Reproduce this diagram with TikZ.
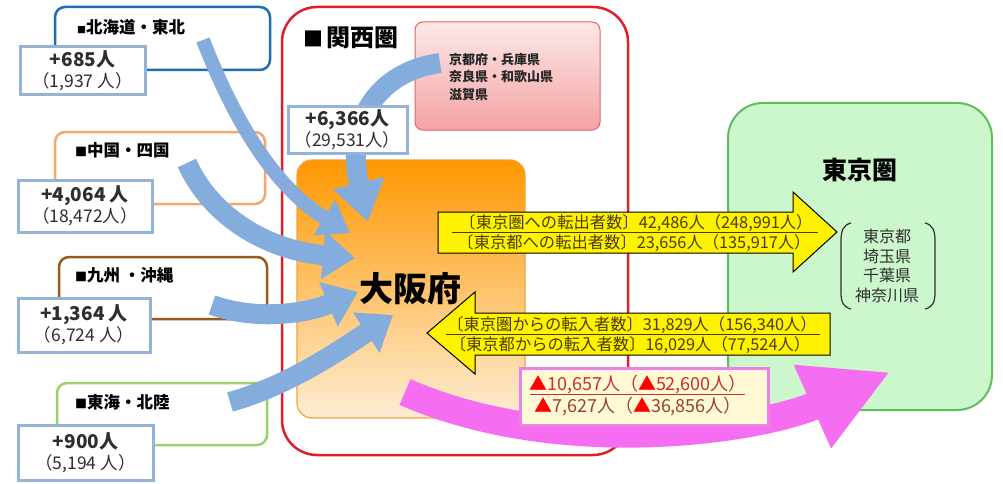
\documentclass[tikz,border=0pt]{standalone}
\usepackage{fontspec}
\setmainfont{Noto Sans CJK JP}
\usetikzlibrary{arrows.meta}
\definecolor{hkblue}{HTML}{1F6EB5}
\definecolor{cgorange}{HTML}{F3A86A}
\definecolor{kybrown}{HTML}{9A5A1E}
\definecolor{tkgreen}{HTML}{9BD16A}
\definecolor{ksred}{HTML}{E01E2A}
\definecolor{valblue}{HTML}{95B3D7}
\definecolor{arrblue}{HTML}{84ACDD}
\definecolor{ostop}{HTML}{FF9800}
\definecolor{osbot}{HTML}{FDEDD5}
\definecolor{osline}{HTML}{F2A33A}
\definecolor{pktop}{HTML}{FDE8E8}
\definecolor{pkbot}{HTML}{F4A3A3}
\definecolor{pkline}{HTML}{E06666}
\definecolor{tyfill}{HTML}{CCF7CC}
\definecolor{tyline}{HTML}{5CBF5C}
\definecolor{ytext}{HTML}{4A3C00}
\definecolor{magarrow}{HTML}{F56EF2}
\definecolor{lblfill}{HTML}{FFF9D6}
\definecolor{lblline}{HTML}{EC7FE8}
\definecolor{redtxt}{HTML}{C8302E}
\definecolor{browntxt}{HTML}{94452C}
\definecolor{graytxt}{HTML}{2E2E2E}
\tikzset{
  regbox/.style={draw, line width=2.5pt, rounded corners=10pt, fill=white, inner sep=0pt},
  regtitle/.style={anchor=west, inner sep=0pt, font=\fontsize{16.5}{18}\selectfont\bfseries},
  valbox/.style={draw=valblue, line width=3pt, fill=white, inner sep=0pt, align=center, text=graytxt, font=\fontsize{17.5}{21}\selectfont},
  blarrow/.style={draw=arrblue, line width=20pt, -{Triangle[length=32pt,width=46pt]}},
  yarrow/.style={draw=black, line width=1pt, fill=yellow, line join=miter},
  ytxt/.style={inner sep=0pt, text=ytext, font=\fontsize{16.3}{18}\selectfont},
  lbltxt/.style={inner sep=0pt, font=\fontsize{18}{20}\selectfont},
}
\newcommand{\vbtxt}[2]{{\fontsize{19}{21}\selectfont\bfseries #1}\\{\fontsize{17.5}{21}\selectfont #2}}
\newcommand{\rtri}{\textcolor{red}{▲}}
\begin{document}
\begin{tikzpicture}[x=1pt,y=-1pt]
\useasboundingbox (0,0) rectangle (1003,484);
\fill[white] (0,0) rectangle (1003,484);

% region boxes on the left
\node[regbox, draw=hkblue, minimum width=215pt, minimum height=63pt] (hk) at (162.5,38.5) {};
\node[regbox, draw=cgorange, minimum width=210pt, minimum height=72pt] (cg) at (160,168) {};
\node[regbox, draw=kybrown, minimum width=208pt, minimum height=62pt] (ky) at (163,288) {};
\node[regbox, draw=tkgreen, minimum width=210pt, minimum height=62pt] (tk) at (162,414) {};
\node[regtitle] (hkt) at (77,27) {{\fontsize{9}{9}\selectfont ■}北海道・東北};
\node[regtitle] (cgt) at (75,150) {{\fontsize{12}{12}\selectfont ■}中国・四国};
\node[regtitle] (kyt) at (75,275) {{\fontsize{12}{12}\selectfont ■}九州 ・沖縄};
\node[regtitle] (tkt) at (75,402) {{\fontsize{12}{12}\selectfont ■}東海・北陸};

% Kansai
\node[draw=ksred, line width=2.5pt, rounded corners=35pt, minimum width=346pt, minimum height=448pt, inner sep=0pt] (ks) at (455,231) {};
\node[anchor=west, inner sep=0pt, font=\fontsize{24}{26}\selectfont\bfseries] (kst) at (303,38) {{\fontsize{20}{20}\selectfont ■}\hspace{3pt}関西圏};
\node[draw=pkline, line width=1pt, rounded corners=8pt, top color=pktop, bottom color=pkbot, minimum width=185pt, minimum height=108pt, inner sep=0pt] (pk) at (507.5,76) {};
\node[anchor=north west, align=left, inner sep=0pt, font=\fontsize{13}{17.5}\selectfont\bfseries, text=black!85] (pkt) at (449,53) {京都府・兵庫県\\奈良県・和歌山県\\滋賀県};

% Osaka
\node[draw=osline, line width=1.2pt, rounded corners=15pt, top color=ostop, bottom color=osbot, minimum width=228pt, minimum height=258pt, inner sep=0pt] (os) at (411,289) {};
\node[inner sep=0pt, font=\fontsize{34}{36}\selectfont\bfseries] (ost) at (410,289) {大阪府};

% Tokyo
\node[draw=tyline, line width=2pt, rounded corners=35pt, fill=tyfill, minimum width=264pt, minimum height=307pt, inner sep=0pt] (ty) at (860,256.5) {};
\node[inner sep=0pt, font=\fontsize{25}{28}\selectfont\bfseries] (tyt) at (860,170) {東京圏};
\node[align=center, inner sep=0pt, font=\fontsize{16}{19.5}\selectfont, text=graytxt] (tyl) at (887,266) {東京都\\埼玉県\\千葉県\\神奈川県};
\draw[graytxt, line width=1.2pt] (851,223) .. controls (843,225) and (841,231) .. (841,241) -- (841,292) .. controls (841,302) and (843,307) .. (851,309);
\draw[graytxt, line width=1.2pt] (925,223) .. controls (933,225) and (935,231) .. (935,241) -- (935,292) .. controls (935,302) and (933,307) .. (925,309);

% blue arrows
\coordinate (hks) at (203,40);
\coordinate (cgs) at (187,163);
\coordinate (kys) at (212,305);
\coordinate (tks) at (230,402);
\coordinate (pks) at (440,63);
\coordinate (osa) at (350,233);
\coordinate (osb) at (355,258);
\coordinate (osc) at (358,292);
\coordinate (osd) at (393,315);
\coordinate (ose) at (368,222);
\draw[blarrow, line width=14pt, -{Triangle[length=30pt,width=40pt]}] (hks) .. controls (230,110) and (270,185) .. (osa);
\draw[blarrow] (cgs) .. controls (210,215) and (265,250) .. (osb);
\draw[blarrow] (kys) .. controls (260,322) and (310,312) .. (osc);
\draw[blarrow] (tks) .. controls (290,385) and (340,350) .. (osd);
\draw[blarrow, -{Triangle[length=40pt,width=50pt]}] (pks) .. controls (375,72) and (345,125) .. (ose);

% value boxes
\node[valbox, minimum width=125pt, minimum height=48pt] (hkv) at (82.5,71) {\vbtxt{+685人}{（1,937 人）}};
\node[valbox, minimum width=134pt, minimum height=52pt] (cgv) at (85,206) {\vbtxt{+4,064 人}{（18,472人）}};
\node[valbox, minimum width=132pt, minimum height=54pt] (kyv) at (84,325) {\vbtxt{+1,364 人}{（6,724 人）}};
\node[valbox, minimum width=135pt, minimum height=55pt] (tkv) at (85.5,452.5) {\vbtxt{+900人}{（5,194 人）}};
\node[valbox, minimum width=119pt, minimum height=46pt] (ksv) at (347.5,130) {\vbtxt{+6,366人}{（29,531人）}};

% yellow arrows
\draw[yarrow] (438,212) -- (793,212) -- (793,192) -- (837,232) -- (793,272) -- (793,253) -- (438,253) -- cycle;
\node[ytxt] (out1) at (636,223) {〔東京圏への転出者数〕42,486人（248,991人）};
\node[ytxt] (out2) at (634,243) {〔東京都への転出者数〕23,656人（135,917人）};
\draw[ytext, line width=0.8pt] (452,232.5) -- (818,232.5);
\draw[yarrow] (830,313) -- (475,313) -- (475,292) -- (427,333) -- (475,374) -- (475,355) -- (830,355) -- cycle;
\node[ytxt] (in1) at (632,325) {〔東京圏からの転入者数〕31,829人（156,340人）};
\node[ytxt] (in2) at (630,345) {〔東京都からの転入者数〕16,029人（77,524人）};
\draw[ytext, line width=0.8pt] (446,334) -- (820,334);

% magenta arrow
\coordinate (mgs) at (405,392);
\coordinate (mge) at (890,372);
\draw[draw=magarrow, line width=28pt, -{Triangle[length=85pt,width=85pt]}] (mgs) .. controls (560,460) and (760,430) .. (mge);
\node[draw=lblline, line width=3pt, fill=lblfill, minimum width=248pt, minimum height=57pt, inner sep=0pt] (lbl) at (644,396.5) {};
\node[lbltxt, text=redtxt] (lbl1) at (638,385) {\rtri 10,657人（\rtri 52,600人）};
\node[lbltxt, text=browntxt] (lbl2) at (638,407) {\rtri 7,627人（\rtri 36,856人）};
\draw[redtxt, line width=0.8pt] (530,394) -- (745,394);
\end{tikzpicture}
\end{document}
